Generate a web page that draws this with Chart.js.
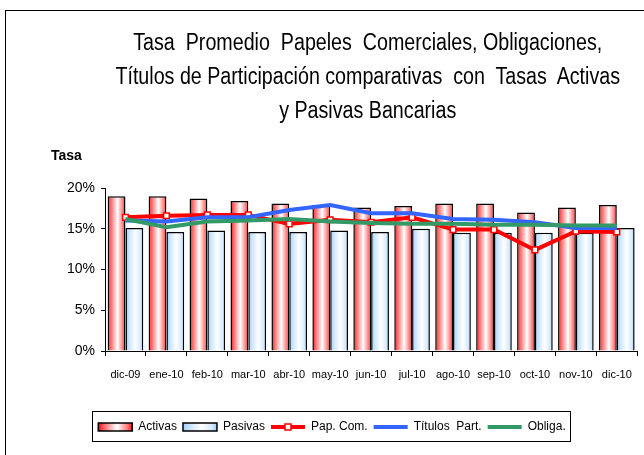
<!DOCTYPE html>
<html>
<head>
<meta charset="utf-8">
<script src="https://cdn.jsdelivr.net/npm/chart.js@4/dist/chart.umd.min.js"></script>
<style>
  html, body { margin: 0; padding: 0; background: #fff; overflow: hidden; }
  #wrap { position: relative; width: 644px; height: 455px; overflow: hidden; }
  #frame { position: absolute; left: 5px; top: 10px; width: 720px; height: 600px; border: 1px solid #000; }
  #title {
    position: absolute; left: 5px; width: 724px; top: 25px;
    text-align: center; white-space: pre; color: #000;
    font-family: 'Liberation Sans', Arial, sans-serif;
    font-size: 23px; line-height: 34px;
    transform: scaleX(0.855); transform-origin: 367px 0;
  }
  #ylab {
    position: absolute; left: 51px; top: 147px; color: #000;
    font-family: 'Liberation Sans', Arial, sans-serif;
    font-size: 14px; font-weight: bold;
  }
  canvas { position: absolute; left: 0; top: 0; }
</style>
</head>
<body>
<div id="wrap">
  <div id="frame"></div>
  <canvas id="tasaChart" width="644" height="455"></canvas>
  <div id="title">Tasa  Promedio  Papeles  Comerciales, Obligaciones,
Títulos de Participación comparativas  con  Tasas  Activas
y Pasivas Bancarias</div>
  <div id="ylab">Tasa</div>
</div>
<script>
// months
const labels = ['dic-09', 'ene-10', 'feb-10', 'mar-10', 'abr-10', 'may-10', 'jun-10',
  'jul-10', 'ago-10', 'sep-10', 'oct-10', 'nov-10', 'dic-10'];

// values in %
const activas = [19.0, 19.0, 18.7, 18.4, 18.1, 17.9, 17.6, 17.8, 18.1, 18.1, 17.0, 17.6, 17.9];
const pasivas = [15.1, 14.6, 14.8, 14.6, 14.6, 14.8, 14.6, 15.0, 14.5, 14.5, 14.5, 14.5, 15.1];
const papCom = [16.4, 16.6, 16.7, 16.7, 15.6, 16.1, 15.8, 16.4, 14.9, 14.9, 12.4, 14.7, 14.6];
const titulosPart = [16.0, 15.9, 16.4, 16.4, 17.3, 17.9, 16.9, 16.9, 16.2, 16.1, 15.8, 15.1, 15.1];
const obliga = [16.2, 15.2, 15.9, 16.0, 16.2, 15.9, 15.7, 15.6, 15.6, 15.5, 15.5, 15.4, 15.4];

const yTicks = [0, 5, 10, 15, 20];

const FONT = "'Liberation Sans', Arial, sans-serif";
const CAT_PCT = 0.87;
const LEGEND_CENTER = 332;

const redStops = [[0, '#ff0000'], [0.15, '#ff6060'], [0.55, '#ffffff'], [0.85, '#ff8080'], [1, '#ff1010']];
const blueStops = [[0, '#99ccff'], [0.2, '#cce5ff'], [0.55, '#ffffff'], [0.85, '#d6eaff'], [1, '#99ccff']];

function makeGrad(ctx, x0, x1, stops) {
  const g = ctx.createLinearGradient(x0, 0, x1, 0);
  stops.forEach((s) => g.addColorStop(s[0], s[1]));
  return g;
}

// horizontal gradient across each bar (side -1 = left bar, 1 = right bar)
function barFill(stops, side) {
  return (c) => {
    const chart = c.chart;
    const xs = chart.scales.x;
    if (c.type !== 'data' || !xs || !xs.width) return stops[0][1];
    const center = xs.getPixelForValue(c.dataIndex);
    const w = (xs.width / labels.length) * CAT_PCT / 2;
    const x0 = side < 0 ? center - w : center;
    return makeGrad(chart.ctx, x0, x0 + w, stops);
  };
}

// legend position, gradient boxes, marker and frame
const legendExtras = {
  id: 'legendExtras',
  afterLayout(chart) {
    const lg = chart.legend;
    const dx = LEGEND_CENTER - (lg.left + lg.right) / 2;
    lg.left += dx;
    lg.right += dx;
  },
  beforeDraw(chart) {
    const lg = chart.legend;
    lg.legendItems.forEach((it, i) => {
      const hb = lg.legendHitBoxes[i];
      if (it.datasetIndex === 0) it.fillStyle = makeGrad(chart.ctx, hb.left, hb.left + 34, redStops);
      if (it.datasetIndex === 1) it.fillStyle = makeGrad(chart.ctx, hb.left, hb.left + 34, blueStops);
    });
  },
  afterDraw(chart) {
    const lg = chart.legend;
    const ctx = chart.ctx;
    const hbs = lg.legendHitBoxes;
    let l = Infinity, r = -Infinity, t = Infinity, b = -Infinity;
    hbs.forEach((hb) => {
      l = Math.min(l, hb.left); r = Math.max(r, hb.left + hb.width);
      t = Math.min(t, hb.top); b = Math.max(b, hb.top + hb.height);
    });
    ctx.save();
    ctx.strokeStyle = '#000';
    ctx.lineWidth = 1;
    ctx.strokeRect(Math.round(l - 6) + 0.5, Math.round(t - 10) + 0.5, Math.round(r - l + 11), Math.round(b - t + 18));
    // small marker on the Pap. Com. legend line
    lg.legendItems.forEach((it, i) => {
      if (it.datasetIndex !== 2) return;
      const hb = hbs[i];
      const cx = hb.left + 17, cy = hb.top + 6;
      ctx.fillStyle = '#fff';
      ctx.strokeStyle = '#ff0000';
      ctx.lineWidth = 1.5;
      ctx.fillRect(cx - 3, cy - 3, 6, 6);
      ctx.strokeRect(cx - 3, cy - 3, 6, 6);
    });
    ctx.restore();
  }
};

const ctx = document.getElementById('tasaChart').getContext('2d');
new Chart(ctx, {
  data: {
    labels: labels,
    datasets: [
      {
        type: 'bar', label: 'Activas', data: activas, order: 10,
        backgroundColor: barFill(redStops, -1), borderColor: '#000', borderWidth: 1.5,
        barPercentage: 1, categoryPercentage: CAT_PCT
      },
      {
        type: 'bar', label: 'Pasivas', data: pasivas, order: 10,
        backgroundColor: barFill(blueStops, 1), borderColor: '#000', borderWidth: 1.5,
        barPercentage: 1, categoryPercentage: CAT_PCT
      },
      {
        type: 'line', label: 'Pap. Com.', data: papCom, order: 3,
        borderColor: '#ff0000', borderWidth: 4, tension: 0, fill: false,
        pointStyle: 'rect', pointRadius: 4, pointBackgroundColor: '#ffffff',
        pointBorderColor: '#ff0000', pointBorderWidth: 1.5
      },
      {
        type: 'line', label: 'Títulos  Part.', data: titulosPart, order: 2,
        borderColor: '#3366ff', borderWidth: 4, tension: 0, fill: false, pointRadius: 0
      },
      {
        type: 'line', label: 'Obliga.', data: obliga, order: 1,
        borderColor: '#339966', borderWidth: 4, tension: 0, fill: false, pointRadius: 0
      }
    ]
  },
  options: {
    responsive: false,
    animation: false,
    layout: { padding: { left: 56, right: 0, top: 188, bottom: 12 } },
    plugins: {
      tooltip: { enabled: false },
      title: { display: false },
      legend: {
        position: 'bottom',
        labels: {
          sort: (a, b) => a.datasetIndex - b.datasetIndex,
          usePointStyle: true,
          pointStyleWidth: 34,
          boxHeight: 8,
          padding: 6,
          color: '#000',
          font: { family: FONT, size: 12 },
          generateLabels(chart) {
            const items = Chart.defaults.plugins.legend.labels.generateLabels(chart);
            items.forEach((it) => {
              const ds = chart.data.datasets[it.datasetIndex];
              if (ds.type === 'line') {
                it.pointStyle = 'line';
                it.lineWidth = 4;
                it.strokeStyle = ds.borderColor;
              } else {
                it.pointStyle = 'rect';
                it.lineWidth = 1.5;
                it.strokeStyle = '#000';
              }
            });
            return items;
          }
        }
      }
    },
    scales: {
      x: {
        offset: true,
        grid: { offset: true, drawOnChartArea: false, color: '#000', tickLength: 5 },
        border: { color: '#000', width: 1 },
        ticks: { color: '#000', font: { family: FONT, size: 11 }, maxRotation: 0, autoSkip: false, padding: 12 },
        afterFit(s) { s.height = 64; }
      },
      y: {
        min: 0, max: 20,
        afterBuildTicks(s) { s.ticks = yTicks.map((v) => ({ value: v })); },
        ticks: { color: '#000', font: { family: FONT, size: 14 }, padding: 6, callback: (v) => v + '%' },
        grid: { drawOnChartArea: false, color: '#000', tickLength: 4 },
        border: { color: '#000', width: 1 },
        afterFit(s) { s.width = 49; }
      }
    }
  },
  plugins: [legendExtras]
});
</script>
</body>
</html>
